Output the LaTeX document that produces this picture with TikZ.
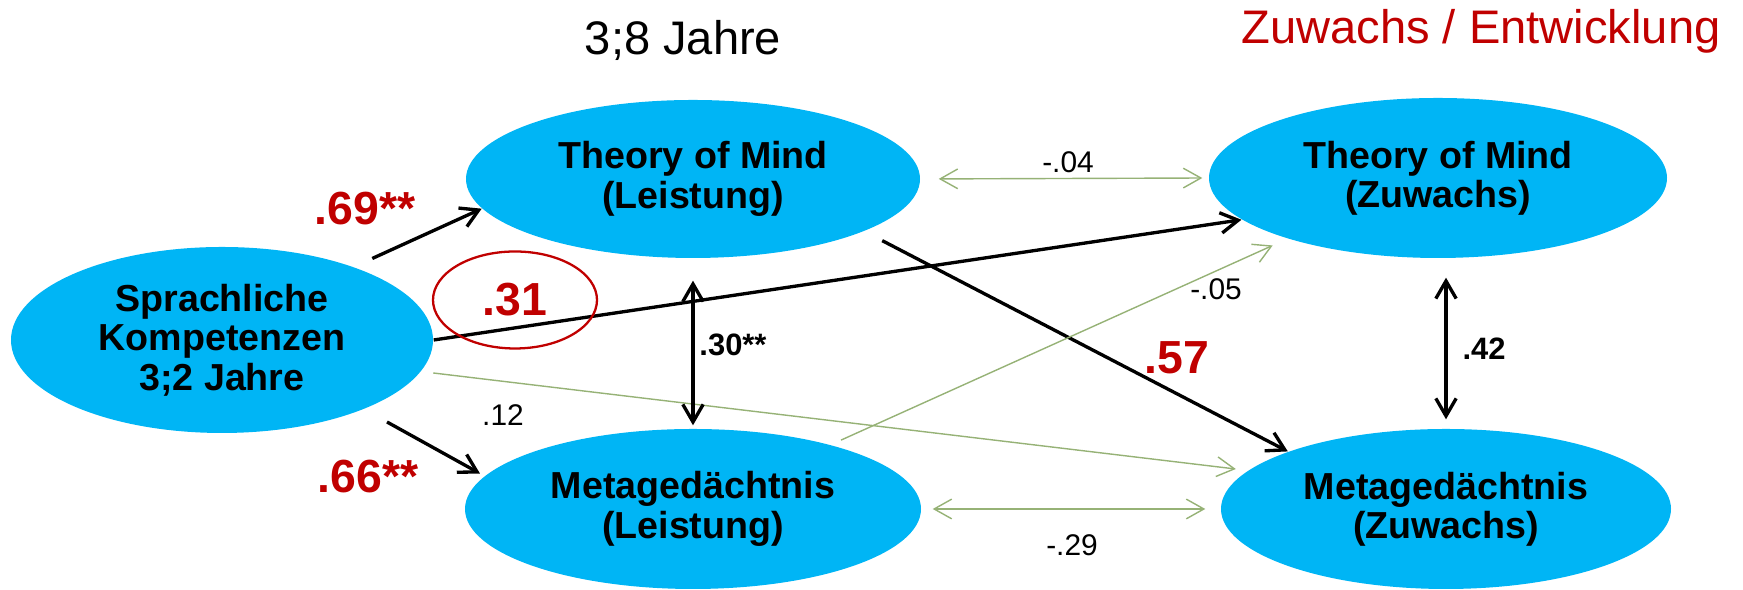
\documentclass[tikz,border=0pt]{standalone}
\usepackage{fontspec}
\setmainfont{Liberation Sans}
\usetikzlibrary{arrows.meta,shapes.geometric}

\definecolor{varblue}{RGB}{0,181,245}
\definecolor{weakgreen}{RGB}{150,178,118}
\definecolor{sigred}{RGB}{192,0,0}

\begin{document}
\begin{tikzpicture}[
  latent/.style={ellipse, fill=varblue, inner sep=0pt, align=center,
    font=\fontsize{10.7}{11.2}\selectfont\bfseries},
  effect/.style={-{Straight Barb[length=5pt,width=5.8pt]}, line width=0.95pt},
  weak/.style={-{Straight Barb[length=5pt,width=5.6pt]}, line width=0.4pt, draw=weakgreen},
  corr/.style={{Straight Barb[length=5pt,width=5.8pt]}-{Straight Barb[length=5pt,width=5.8pt]},
    line width=0.95pt},
  weakcorr/.style={{Straight Barb[length=5pt,width=5.6pt]}-{Straight Barb[length=5pt,width=5.6pt]},
    line width=0.4pt, draw=weakgreen},
  bignum/.style={text=sigred, font=\fontsize{13.2}{15}\selectfont\bfseries, inner sep=0pt},
  boldnum/.style={font=\fontsize{8.8}{10}\selectfont\bfseries, anchor=base, inner sep=0pt},
  smallnum/.style={font=\fontsize{8.5}{10}\selectfont, anchor=base, inner sep=0pt},
  heading/.style={font=\fontsize{13.4}{16}\selectfont, anchor=base, inner sep=0pt}
]
\useasboundingbox (0,0) rectangle (17.43,5.90);

% headings
\node[heading] (hd38) at (6.83,5.35) {3;8 Jahre};
\node[heading, text=sigred] (hdzw) at (14.81,5.46) {Zuwachs / Entwicklung};

% constructs
\node[latent, minimum width=4.22cm, minimum height=1.86cm] (spr) at (2.22,2.50)
  {Sprachliche\\Kompetenzen\\3;2 Jahre};
\node[latent, minimum width=4.54cm, minimum height=1.58cm] (toml) at (6.93,4.11)
  {Theory of Mind\\(Leistung)};
\node[latent, minimum width=4.56cm, minimum height=1.60cm] (metl) at (6.93,0.81)
  {Metagedächtnis\\(Leistung)};
\node[latent, minimum width=4.58cm, minimum height=1.60cm] (tomz) at (14.38,4.12)
  {Theory of Mind\\(Zuwachs)};
\node[latent, minimum width=4.50cm, minimum height=1.60cm] (metz) at (14.46,0.81)
  {Metagedächtnis\\(Zuwachs)};

% paths from language
\draw[effect, shorten <=0.2cm] (spr.29) -- (toml.188);
\draw[effect, shorten <=0.26cm, shorten >=0.05cm] (spr.334) -- (metl.171);
\draw[effect] (spr.east) -- (tomz.192);
\draw[weak, shorten <=0.12cm, shorten >=0.12cm] (spr.351) -- (metz.169);

% cross paths
\draw[effect, shorten <=0.2cm] (toml.343) -- (metz.160);
\draw[weak, shorten <=0.11cm, shorten >=0.16cm] (metl.25) -- (tomz.202);

% stability paths
\draw[weakcorr, shorten <=0.18cm, shorten >=0.06cm] (toml.east) -- (tomz.west);
\draw[weakcorr, shorten <=0.11cm, shorten >=0.15cm] (metl.east) -- (metz.west);

% correlations
\draw[corr, shorten <=0.22cm, shorten >=0.03cm] (toml.south) -- (metl.north);
\draw[corr, shorten <=0.19cm, shorten >=0.09cm] (metz.north |- tomz.south) -- (metz.north);

% coefficients
\node[bignum, anchor=base] (c69) at (3.65,3.65) {.69**};
\node[bignum, anchor=base] (c66) at (3.68,0.97) {.66**};
\node[bignum, ellipse, draw=sigred, line width=0.65pt, minimum width=1.64cm,
  minimum height=0.97cm] (c31) at (5.15,2.90) {.31};
\node[bignum, anchor=base] (c57) at (11.77,2.16) {.57};
\node[boldnum] (c30) at (7.33,2.34) {.30**};
\node[boldnum] (c42) at (14.84,2.30) {.42};
\node[smallnum] (c12) at (5.03,1.64) {.12};
\node[smallnum] (c05) at (12.16,2.90) {-.05};
\node[smallnum] (c04) at (10.68,4.17) {-.04};
\node[smallnum] (c29) at (10.72,0.34) {-.29};

\end{tikzpicture}
\end{document}
